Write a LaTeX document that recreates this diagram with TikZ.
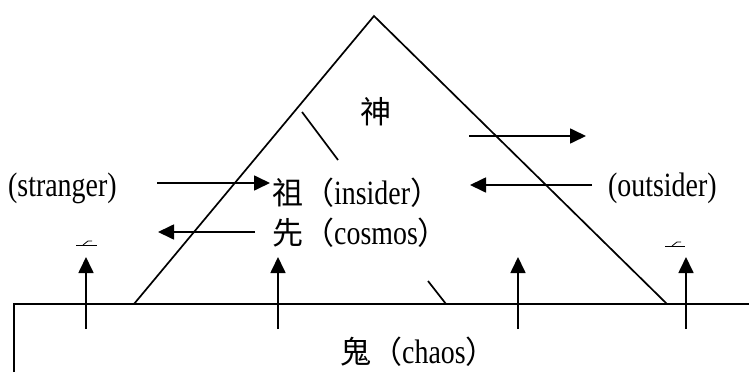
\documentclass[tikz,border=0pt]{standalone}
\usepackage{fontspec}
\setmainfont[FakeStretch=0.82]{Liberation Serif}
\newfontfamily\cjk{Noto Sans CJK TC}
\usetikzlibrary{arrows.meta}
\tikzset{
  ln/.style={line width=1.7pt},
  arr/.style={line width=1.7pt,-{Triangle[length=16pt,width=15pt]}},
  lbl/.style={inner sep=0pt,font=\fontsize{34}{36}\selectfont},
  cj/.style={font=\fontsize{31}{33}\selectfont\cjk},
  mk/.style={line width=0.8pt}
}
\newcommand{\cjkpart}[1]{{\fontsize{31}{33}\selectfont\cjk #1}}
\begin{document}
\begin{tikzpicture}[x=1pt,y=-1pt]
\useasboundingbox (0,0) rectangle (749,372);
% triangle
\coordinate (apex) at (374,16);
\coordinate (bl) at (134,304);
\coordinate (br) at (667,304);
\draw[ln] (bl) -- (apex) -- (br);
% ground box
\coordinate (g0) at (14,372);
\coordinate (g1) at (14,304);
\coordinate (g2) at (749,304);
\draw[ln] (g0) -- (g1) -- (g2);
% small slashes
\coordinate (s1a) at (302,112); \coordinate (s1b) at (338,160);
\draw[ln] (s1a) -- (s1b);
\coordinate (s2a) at (428,281); \coordinate (s2b) at (446,304);
\draw[ln] (s2a) -- (s2b);
% labels
\node[inner sep=0pt,cj,anchor=center] (shen) at (376,112) {神};
\node[lbl,anchor=base west] (stranger) at (8,196) {(stranger)};
\node[lbl,anchor=base west] (outsider) at (608,196) {(outsider)};
\node[lbl,anchor=base west] (zu) at (272,204) {\cjkpart{祖（}insider\cjkpart{）}};
\node[lbl,anchor=base west] (xian) at (272,244) {\cjkpart{先（}cosmos\cjkpart{）}};
\node[lbl,anchor=base west] (gui) at (340,363) {\cjkpart{鬼（}chaos\cjkpart{）}};
% horizontal arrows
\coordinate (a1s) at (157,183); \coordinate (a1e) at (270,183);
\draw[arr] (a1s) -- (a1e);
\coordinate (a2s) at (255,232); \coordinate (a2e) at (158,232);
\draw[arr] (a2s) -- (a2e);
\coordinate (a3s) at (469,136); \coordinate (a3e) at (586,136);
\draw[arr] (a3s) -- (a3e);
\coordinate (a4s) at (592,185); \coordinate (a4e) at (470,185);
\draw[arr] (a4s) -- (a4e);
% vertical arrows
\foreach \n/\x in {v1/86,v2/278,v3/518,v4/686}{
  \coordinate (\n s) at (\x,329);
  \coordinate (\n e) at (\x,257);
  \draw[arr] (\n s) -- (\n e);
}
% clipped glyph marks
\coordinate (m1a) at (76,245); \coordinate (m1b) at (97,245);
\draw[mk] (m1a) -- (m1b);
\coordinate (m1c) at (83,245); \coordinate (m1d) at (88,241); \coordinate (m1e) at (92,241);
\draw[mk] (m1c) -- (m1d) -- (m1e);
\coordinate (m2a) at (665,246); \coordinate (m2b) at (685,246);
\draw[mk] (m2a) -- (m2b);
\coordinate (m2c) at (672,246); \coordinate (m2d) at (677,242); \coordinate (m2e) at (681,242);
\draw[mk] (m2c) -- (m2d) -- (m2e);
\end{tikzpicture}
\end{document}
